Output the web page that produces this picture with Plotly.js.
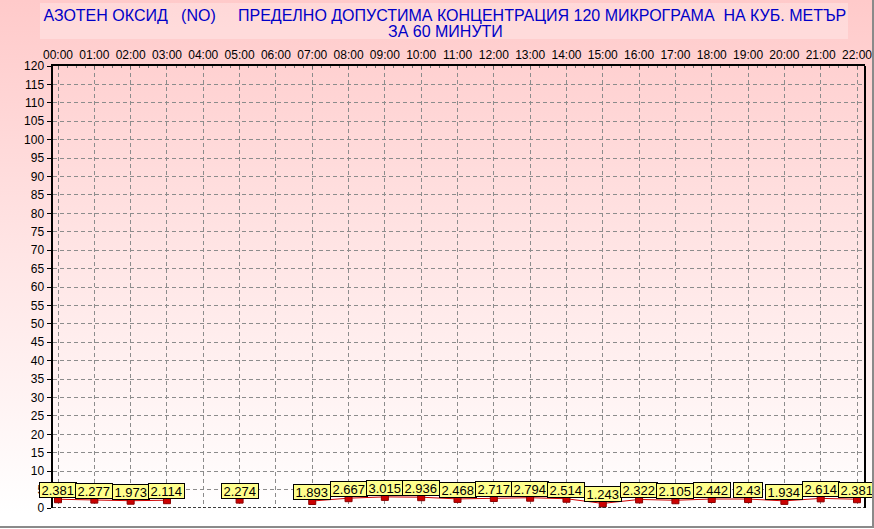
<!DOCTYPE html>
<html>
<head>
<meta charset="utf-8">
<script src="https://cdn.plot.ly/plotly-3.0.1.min.js"></script>
<style>
  html, body { margin: 0; padding: 0; background: #ffffff; }
  #wrap { position: relative; width: 874px; height: 529px; overflow: hidden;
          background: linear-gradient(to bottom, #ffcaca 0%, #ffe6e6 50%, #ffffff 97%, #ffffff 100%); }
  #titlebox { position: absolute; left: 40px; top: 3px; width: 808px; height: 36px;
              background: rgba(255,255,255,0.28); }
  #frame { position: absolute; left: 0; top: 0; width: 872px; height: 526px;
           border-right: 2px solid #8a8a8a; border-bottom: 2px solid #8a8a8a; box-sizing: content-box; pointer-events: none; }
  #chart { position: absolute; left: 0; top: 0; width: 874px; height: 529px; }
</style>
</head>
<body>
<div id="wrap">
  <div id="titlebox"></div>
  <div id="chart"></div>
  <div id="frame"></div>
</div>
<script>
// ---- data ----
const hours = ['00:00','01:00','02:00','03:00','04:00','05:00','06:00','07:00','08:00','09:00','10:00','11:00',
               '12:00','13:00','14:00','15:00','16:00','17:00','18:00','19:00','20:00','21:00','22:00'];
const values = [2.381, 2.277, 1.973, 2.114, null, 2.274, null, 1.893, 2.667, 3.015, 2.936, 2.468,
                2.717, 2.794, 2.514, 1.243, 2.322, 2.105, 2.442, 2.43, 1.934, 2.614, 2.381];
const yTicks = [0,5,10,15,20,25,30,35,40,45,50,55,60,65,70,75,80,85,90,95,100,105,110,115,120];
const titleLine1 = 'АЗОТЕН ОКСИД\u00a0\u00a0\u00a0(NO)\u00a0\u00a0\u00a0\u00a0\u00a0ПРЕДЕЛНО ДОПУСТИМА КОНЦЕНТРАЦИЯ 120 МИКРОГРАМА\u00a0\u00a0НА КУБ. МЕТЪР';
const titleLine2 = 'ЗА 60 МИНУТИ';

const xIdx = hours.map((h, i) => i);
const FONT = 'Arial, "Liberation Sans", sans-serif';

const lineTrace = {
  x: xIdx, y: values, type: 'scatter', mode: 'lines',
  connectgaps: false,
  line: { color: '#d00000', width: 1 },
  hoverinfo: 'skip'
};
const markTrace = {
  x: xIdx, y: values, type: 'scatter', mode: 'markers',
  marker: { symbol: 'square', size: 7, color: '#cc0000', line: { color: '#880000', width: 1 } },
  hoverinfo: 'skip'
};

const annotations = [];
values.forEach((v, i) => {
  if (v === null) return;
  annotations.push({
    x: i, y: v, xref: 'x', yref: 'y', text: String(v), showarrow: false,
    yshift: 9, bgcolor: '#ffff8c', bordercolor: '#000000', borderwidth: 1, borderpad: 1.5,
    height: 11, font: { family: FONT, size: 13, color: '#000000' }
  });
});
annotations.push({
  xref: 'paper', yref: 'paper', x: 0.483, y: (508 - 31) / 442, xanchor: 'center', yanchor: 'middle',
  text: titleLine2, showarrow: false, font: { family: FONT, size: 16, color: '#0000c8' }
});

const layout = {
  width: 874, height: 529,
  margin: { l: 53, r: 9, t: 66, b: 21, pad: 0 },
  paper_bgcolor: 'rgba(0,0,0,0)', plot_bgcolor: 'rgba(0,0,0,0)',
  showlegend: false,
  font: { family: FONT, size: 12, color: '#000000' },
  title: {
    text: titleLine1,
    x: 0.509, xanchor: 'center', xref: 'container',
    y: 1 - 15 / 529, yanchor: 'middle', yref: 'container',
    font: { family: FONT, size: 16, color: '#0000c8' }
  },
  xaxis: {
    side: 'top', range: [-0.138, 22.22], tickmode: 'array', tickvals: xIdx, ticktext: hours,
    showgrid: true, gridcolor: '#8c8c8c', griddash: '4px,3px', gridwidth: 1,
    showline: true, linecolor: '#000000', linewidth: 2,
    ticks: 'inside', ticklen: 3, tickcolor: '#666666', tickwidth: 1,
    minor: { dtick: 0.25, tick0: 0, ticks: 'inside', ticklen: 2, tickcolor: '#777777', showgrid: false },
    zeroline: false, fixedrange: true,
    tickfont: { family: FONT, size: 12, color: '#000000' }
  },
  yaxis: {
    range: [0, 120], tickmode: 'array', tickvals: yTicks,
    showgrid: true, gridcolor: '#8c8c8c', griddash: '4px,3px', gridwidth: 1,
    showline: true, linecolor: '#000000', linewidth: 2.5,
    ticks: 'outside', ticklen: 4, tickcolor: '#000000', tickwidth: 1,
    zeroline: false, fixedrange: true,
    tickfont: { family: FONT, size: 12, color: '#000000' }
  },
  shapes: [
    { type: 'line', xref: 'paper', yref: 'y', x0: 0, x1: 1, y0: 0, y1: 0,
      line: { color: '#000000', width: 1.5, dash: '3px,2px' } },
    { type: 'line', xref: 'paper', yref: 'paper', x0: 1, x1: 1, y0: 0, y1: 1,
      line: { color: '#000000', width: 2 } }
  ],
  annotations: annotations
};

Plotly.newPlot('chart', [lineTrace, markTrace], layout, { displayModeBar: false, staticPlot: true });
</script>
</body>
</html>
